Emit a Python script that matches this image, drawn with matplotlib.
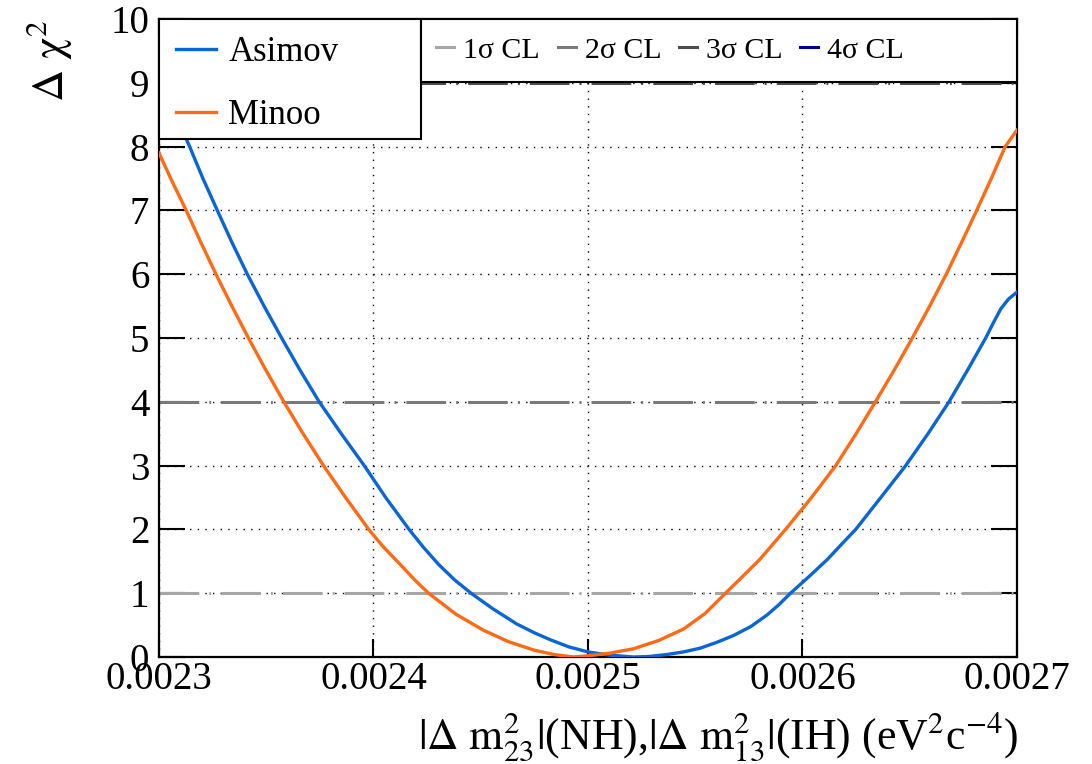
import matplotlib
matplotlib.use("Agg")
import matplotlib.pyplot as plt
from matplotlib.lines import Line2D
from matplotlib.patches import Rectangle

plt.rcParams['font.family'] = ['Liberation Serif', 'DejaVu Serif']
plt.rcParams['mathtext.fontset'] = 'stix'

# Asimov curve
asimov_x = [0.0023000, 0.0023070, 0.0023143, 0.0023205, 0.0023272, 0.0023340,
            0.0023412, 0.0023490, 0.0023572, 0.0023657, 0.0023747, 0.0023850,
            0.0023957, 0.0024057, 0.0024166, 0.0024233, 0.0024304, 0.0024378,
            0.0024455, 0.0024555, 0.0024667, 0.0024750, 0.0024825, 0.0024910,
            0.0025000, 0.0025100, 0.0025213, 0.0025290, 0.0025368, 0.0025445,
            0.0025524, 0.0025600, 0.0025680, 0.0025760, 0.0025835, 0.0025890,
            0.0025944, 0.0026030, 0.0026116, 0.0026180, 0.0026248, 0.0026365,
            0.0026481, 0.0026585, 0.0026683, 0.0026770, 0.0026854, 0.0026890,
            0.0026925, 0.0026960, 0.0027000]
asimov_y = [9.10, 8.55, 8.00, 7.50, 7.00, 6.50,
            6.00, 5.50, 5.00, 4.50, 4.00, 3.50,
            3.00, 2.50, 2.00, 1.72, 1.45, 1.21,
            1.00, 0.76, 0.52, 0.38, 0.27, 0.16,
            0.08, 0.03, 0.00, 0.01, 0.04, 0.08,
            0.14, 0.23, 0.34, 0.48, 0.66, 0.82,
            1.00, 1.26, 1.53, 1.76, 2.00, 2.50,
            3.00, 3.50, 4.00, 4.50, 5.00, 5.24,
            5.46, 5.61, 5.72]

# Minoo curve
minoo_x = [0.0023000, 0.0023062, 0.0023127, 0.0023195, 0.0023266, 0.0023340,
           0.0023417, 0.0023498, 0.0023582, 0.0023672, 0.0023767, 0.0023870,
           0.0023978, 0.0024045, 0.0024125, 0.0024192, 0.0024257, 0.0024385,
           0.0024513, 0.0024630, 0.0024747, 0.0024840, 0.0024933, 0.0025000,
           0.0025100, 0.0025213, 0.0025330, 0.0025446, 0.0025545, 0.0025641,
           0.0025720, 0.0025801, 0.0025921, 0.0026042, 0.0026155, 0.0026250,
           0.0026340, 0.0026428, 0.0026512, 0.0026593, 0.0026670, 0.0026742,
           0.0026812, 0.0026880, 0.0026945, 0.0027000]
minoo_y = [7.90, 7.45, 7.00, 6.50, 6.00, 5.50,
           5.00, 4.50, 4.00, 3.50, 3.00, 2.50,
           2.00, 1.73, 1.45, 1.21, 1.00, 0.67,
           0.42, 0.24, 0.11, 0.04, 0.00, 0.02,
           0.06, 0.13, 0.26, 0.44, 0.68, 1.00,
           1.26, 1.53, 2.00, 2.50, 3.00, 3.50,
           4.00, 4.50, 5.00, 5.50, 6.00, 6.50,
           7.00, 7.50, 8.00, 8.26]

cl_levels = [1, 4, 9, 16]
cl_labels = ['1σ CL', '2σ CL', '3σ CL', '4σ CL']
cl_colors = ['#a6a6a6', '#7a7a7a', '#4d4d4d', '#00008b']

x_ticks = [0.0023, 0.0024, 0.0025, 0.0026, 0.0027]
y_ticks = list(range(0, 11))

fig = plt.figure(figsize=(10.92, 7.64), dpi=100)
ax = fig.add_axes([0.1456, 0.14, 0.7857, 0.835])

ax.grid(True, color='black', linestyle=(0, (1, 4.5)), linewidth=1.0)
ax.set_axisbelow(True)

cl_handles = []
for lev, lab, col in zip(cl_levels, cl_labels, cl_colors):
    ax.plot([x_ticks[0], x_ticks[-1]], [lev, lev], color=col, lw=2.2,
            dashes=(13, 3.3, 0.6, 3.3), zorder=2)
    cl_handles.append(Line2D([], [], color=col, lw=2.2))

ax.plot(asimov_x, asimov_y, color='#0a66d6', lw=2.4, zorder=3,
        solid_joinstyle='round')
ax.plot(minoo_x, minoo_y, color='#ff6a14', lw=2.4, zorder=3,
        solid_joinstyle='round')

ax.set_xlim(0.0023, 0.0027)
ax.set_ylim(0, 10)
ax.set_xticks(x_ticks)
ax.set_xticklabels(['%.4f' % v for v in x_ticks])
ax.set_yticks(y_ticks)
ax.tick_params(axis='both', direction='in', top=True, right=True,
               labelsize=28, width=1.5, color='black')
ax.tick_params(axis='y', length=19, pad=7)
ax.tick_params(axis='x', length=13, pad=3)
for sp in ax.spines.values():
    sp.set_linewidth(1.6)

# boxes of the two legends
ax.add_patch(Rectangle((0.0, 0.812), 0.3057, 0.188, transform=ax.transAxes,
                       facecolor='white', edgecolor='black', lw=1.5,
                       zorder=4, clip_on=False))
ax.add_patch(Rectangle((0.3057, 0.902), 0.6943, 0.098, transform=ax.transAxes,
                       facecolor='white', edgecolor='black', lw=1.5,
                       zorder=4, clip_on=False))

h1 = [Line2D([], [], color='#0a66d6', lw=2.4), Line2D([], [], color='#ff6a14', lw=2.4)]
leg1 = ax.legend(h1, ['Asimov', 'Minoo'], loc='upper left',
                 bbox_to_anchor=(0.0, 1.0), fontsize=25, frameon=False,
                 borderpad=0.5, labelspacing=0.85, handlelength=1.15,
                 handletextpad=0.35, borderaxespad=0)
leg1.set_zorder(5)
ax.add_artist(leg1)

leg2 = ax.legend(cl_handles, cl_labels, loc='center left', ncol=4,
                 bbox_to_anchor=(0.3057, 0.951), fontsize=21.5,
                 frameon=False, borderpad=0.5, handlelength=0.6,
                 handletextpad=0.3, columnspacing=0.6, borderaxespad=0)
leg2.set_zorder(5)

fig.text(0.045, 0.975, r'$\Delta\ \mathrm{\chi}^{2}$', rotation=90, ha='center',
         va='top', fontsize=32)
fig.text(0.932, 0.036,
         r'$|\Delta\ \mathrm{m}^{2}_{23}|$(NH),$|\Delta\ \mathrm{m}^{2}_{13}|$(IH) (eV$^{2}$c$^{-4}$)',
         ha='right', va='center', fontsize=31.5)

fig.savefig('out.png', dpi=100)
